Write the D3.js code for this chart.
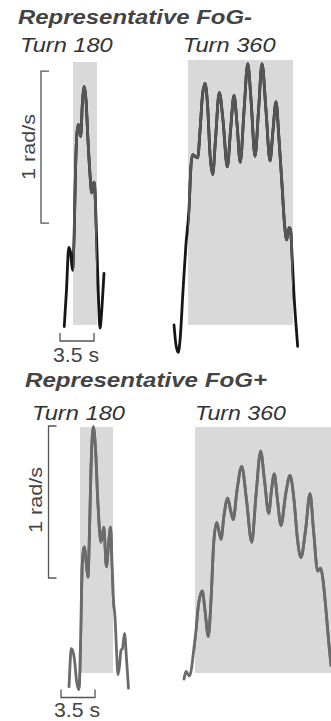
<!DOCTYPE html>
<html lang="en">
<head>
<meta charset="utf-8" />
<style>
body { margin: 0; background: #fff; }
svg { display: block; }
.shade { fill: #d9d9d9; }
.trace { fill: none; stroke-width: 2.8px; stroke-linejoin: round; stroke-linecap: round; }
.bar { fill: none; stroke: #555; stroke-width: 1.3px; }
.title { font-family: "Liberation Sans", Arial, sans-serif; font-weight: bold; font-style: italic; font-size: 21px; fill: #444; }
.turn { font-family: "Liberation Sans", Arial, sans-serif; font-style: italic; font-size: 21px; fill: #333; }
.unit { font-family: "Liberation Sans", Arial, sans-serif; font-size: 18px; fill: #444; }
</style>
</head>
<body>
<script src="https://cdn.jsdelivr.net/npm/d3@7"></script>
<script>
// time in s (0 = start of turn), angular velocity in rad/s
var neg180T = [-0.90, -0.67, -0.44, -0.26, -0.05, 0.13, 0.26, 0.39, 0.55, 0.67, 0.79, 0.96, 1.16, 1.34, 1.54, 1.75, 1.93, 2.06, 2.19, 2.32, 2.47, 2.63, 2.78, 2.93, 3.09, 3.19];
var neg180V = [-0.01, 0.23, 0.51, 0.48, 0.36, 0.63, 1.02, 1.25, 1.32, 1.28, 1.24, 1.45, 1.57, 1.48, 1.22, 0.99, 0.87, 0.92, 0.94, 0.79, 0.49, 0.16, -0.02, 0.07, 0.23, 0.34];

var neg360T = [-1.44, -1.24, -1.00, -0.82, -0.51, -0.21, 0.10, 0.31, 0.48, 0.72, 1.00, 1.24, 1.49, 1.75, 2.01, 2.27, 2.54, 2.83, 3.22, 3.60, 4.05, 4.38, 4.74, 5.05, 5.38, 5.77, 6.15, 6.49, 6.90, 7.26, 7.62, 8.03, 8.44, 8.75, 9.06, 9.37, 9.68, 9.94, 10.16, 10.40, 10.55, 10.71, 10.91, 11.12, 11.29];
var neg360V = [0.00, -0.13, -0.18, -0.10, 0.23, 0.53, 0.76, 1.05, 1.12, 1.11, 1.10, 1.28, 1.51, 1.59, 1.45, 1.12, 0.99, 1.22, 1.53, 1.35, 1.04, 1.28, 1.51, 1.32, 1.07, 1.41, 1.72, 1.48, 1.11, 1.41, 1.72, 1.41, 1.08, 1.28, 1.47, 1.22, 0.92, 0.66, 0.56, 0.64, 0.63, 0.46, 0.20, 0.00, -0.14];

var pos180T = [-1.13, -1.03, -0.90, -0.72, -0.57, -0.36, -0.13, 0.00, 0.10, 0.21, 0.36, 0.46, 0.62, 0.82, 0.98, 1.13, 1.37, 1.60, 1.85, 2.16, 2.45, 2.72, 2.93, 3.14, 3.29, 3.45, 3.60, 3.76, 3.91, 4.07, 4.22, 4.37, 4.58, 4.79, 4.99];
var pos180V = [-0.09, 0.05, 0.16, 0.14, 0.09, -0.05, -0.11, 0.05, 0.35, 0.68, 0.81, 0.83, 0.74, 0.63, 0.94, 1.34, 1.62, 1.47, 1.11, 0.86, 0.96, 0.70, 0.84, 0.96, 0.74, 0.48, 0.37, 0.15, -0.01, 0.05, 0.15, 0.16, 0.26, 0.09, -0.10];

var pos360T = [-1.13, -0.93, -0.72, -0.57, -0.36, -0.17, 0.10, 0.36, 0.75, 1.03, 1.37, 1.65, 1.91, 2.23, 2.47, 2.68, 2.99, 3.37, 3.66, 3.94, 4.32, 4.81, 5.30, 5.84, 6.28, 6.76, 7.15, 7.59, 7.87, 8.16, 8.49, 8.85, 9.32, 9.78, 10.19, 10.55, 10.91, 11.38, 11.84, 12.20, 12.63, 12.94, 13.18, 13.49, 13.80, 14.00];
var pos360V = [-0.04, 0.01, -0.01, -0.02, 0.03, 0.13, 0.28, 0.45, 0.54, 0.41, 0.24, 0.48, 0.84, 0.99, 0.93, 0.88, 1.04, 1.15, 1.07, 1.01, 1.20, 1.36, 1.14, 0.86, 1.17, 1.46, 1.27, 1.05, 1.20, 1.31, 1.14, 0.97, 1.17, 1.30, 1.14, 0.88, 0.76, 0.94, 1.18, 0.94, 0.67, 0.69, 0.61, 0.41, 0.18, 0.05];

// turn durations (shaded), s
var turnDur = [2.47, 10.81, 3.40, 14.5];
var titles = ["Representative FoG-", "Representative FoG+"];
var turnLabels = ["Turn 180", "Turn 360"];
var timeBar = 3.5, rateBar = 1;

var W = 331, H = 721;
var pxPerSec = 34 / 3.5, pxPerRad = 152;

var svg = d3.select("body").append("svg").attr("width", W).attr("height", H);

var rows = [
  { title: titles[0], titleX: 18, titleY: 24, titleW: 234, base: 325, shadeTop: [62, 60],
    labelY: 52, labelX: [20, 182.7], labelW: [92.7, 93],
    vbar: { x: 41, from: 0.67 }, unitX: 35, unitY: 147,
    hbar: { x: 60, y: 341 }, secX: 53, secY: 362,
    inner: "#555", outer: "#161616",
    panels: [{ t: neg180T, v: neg180V, x0: 73, dur: turnDur[0] }, { t: neg360T, v: neg360V, x0: 188, dur: turnDur[1] }] },
  { title: titles[1], titleX: 25, titleY: 387, titleW: 242, base: 673, shadeTop: [427, 427],
    labelY: 420, labelX: [32, 195], labelW: [93, 91],
    vbar: { x: 48.5, from: 0.625 }, unitX: 42, unitY: 500,
    hbar: { x: 61, y: 697.5 }, secX: 54, secY: 717,
    inner: "#6b6b6b", outer: "#6b6b6b",
    panels: [{ t: pos180T, v: pos180V, x0: 80, dur: turnDur[2] }, { t: pos360T, v: pos360V, x0: 195, dur: turnDur[3] }] }
];

rows.forEach(function (row, ri) {
  var y = d3.scaleLinear().domain([0, 1]).range([row.base, row.base - pxPerRad]);

  svg.append("text").attr("class", "title")
    .attr("x", row.titleX).attr("y", row.titleY)
    .attr("textLength", row.titleW).attr("lengthAdjust", "spacingAndGlyphs")
    .text(row.title);

  row.panels.forEach(function (p, pi) {
    var x = d3.scaleLinear().domain([0, 1]).range([p.x0, p.x0 + pxPerSec]);
    var g = svg.append("g");

    svg.append("text").attr("class", "turn")
      .attr("x", row.labelX[pi]).attr("y", row.labelY)
      .attr("textLength", row.labelW[pi]).attr("lengthAdjust", "spacingAndGlyphs")
      .text(turnLabels[pi]);

    g.append("rect").attr("class", "shade")
      .attr("x", x(0)).attr("width", x(p.dur) - x(0))
      .attr("y", row.shadeTop[pi]).attr("height", row.base - row.shadeTop[pi]);

    var pts = p.t.map(function (t, i) { return [t, p.v[i]]; });
    var line = d3.line()
      .x(function (d) { return x(d[0]); })
      .y(function (d) { return y(d[1]); })
      .curve(d3.curveMonotoneX);

    var clipId = "clip" + ri + pi;
    svg.append("clipPath").attr("id", clipId).append("rect")
      .attr("x", x(0)).attr("width", x(p.dur) - x(0))
      .attr("y", 0).attr("height", H);

    g.append("path").attr("class", "trace").attr("d", line(pts)).attr("stroke", row.outer);
    g.append("path").attr("class", "trace").attr("d", line(pts)).attr("stroke", row.inner)
      .attr("clip-path", "url(#" + clipId + ")");

    if (pi === 0) {
      // vertical scale bar, 1 rad/s
      var vx = row.vbar.x, y1 = y(row.vbar.from + rateBar), y2 = y(row.vbar.from);
      svg.append("path").attr("class", "bar")
        .attr("d", "M" + (vx + 8) + "," + y1 + "H" + vx + "V" + y2 + "H" + (vx + 8));
      svg.append("text").attr("class", "unit")
        .attr("transform", "translate(" + row.unitX + "," + row.unitY + ") rotate(-90)")
        .attr("text-anchor", "middle").attr("textLength", 66).attr("lengthAdjust", "spacingAndGlyphs")
        .text(rateBar + " rad/s");

      // horizontal scale bar, 3.5 s
      var hx = row.hbar.x, hw = pxPerSec * timeBar, hy = row.hbar.y;
      svg.append("path").attr("class", "bar")
        .attr("d", "M" + hx + "," + (hy - 8) + "V" + hy + "H" + (hx + hw) + "V" + (hy - 8));
      svg.append("text").attr("class", "unit")
        .attr("x", row.secX).attr("y", row.secY)
        .attr("textLength", 46).attr("lengthAdjust", "spacingAndGlyphs")
        .style("font-size", "21px")
        .text(timeBar + " s");
    }
  });
});
</script>
</body>
</html>
